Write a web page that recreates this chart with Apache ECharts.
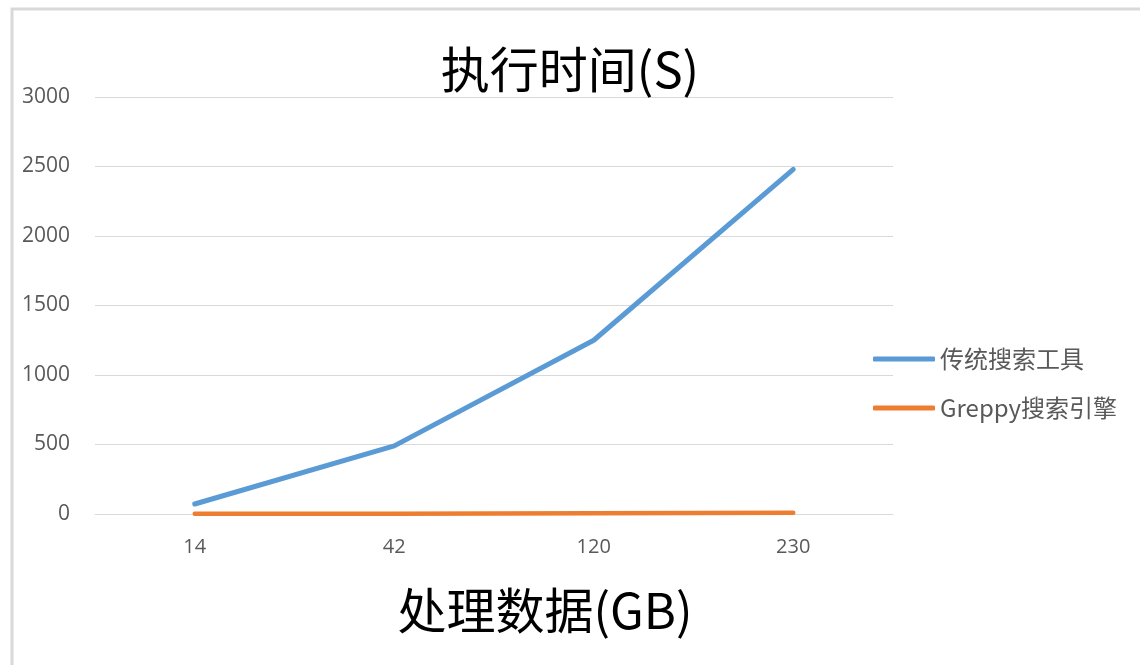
<!DOCTYPE html>
<html>
<head>
<meta charset="utf-8">
<title>执行时间(S)</title>
<script src="https://cdn.jsdelivr.net/npm/echarts@6/dist/echarts.min.js"></script>
<style>
  html, body { margin: 0; padding: 0; background: #fff; }
  #main { width: 1140px; height: 665px; }
</style>
</head>
<body>
<div id="main"></div>
<script>
// 数据
const categories = ['14', '42', '120', '230']
const traditional = [72, 490, 1250, 2480]
const greppy = [1, 2, 6, 9]
const seriesNames = ['传统搜索工具', 'Greppy搜索引擎']

const labelColor = '#595959'
const cjkFont = '"Noto Sans CJK SC", "Noto Sans", sans-serif'

const chart = echarts.init(document.getElementById('main'), null, { renderer: 'canvas' })

chart.setOption({
  animation: false,
  textStyle: { fontFamily: cjkFont },
  title: {
    text: '执行时间(S)',
    left: 'center',
    top: 45,
    padding: 0,
    textStyle: { fontSize: 49, fontWeight: 'normal', color: '#000', fontFamily: cjkFont }
  },
  graphic: [
    {
      type: 'rect',
      shape: { x: 12, y: 9, width: 1200, height: 700 },
      style: { fill: 'none', stroke: '#d9d9d9', lineWidth: 3 },
      silent: true
    }
  ],
  legend: {
    orient: 'vertical',
    left: 868,
    top: 342,
    itemWidth: 62,
    itemHeight: 5,
    itemGap: 25,
    icon: 'roundRect',
    textStyle: { fontSize: 24, lineHeight: 24, color: labelColor, fontFamily: cjkFont },
    data: seriesNames
  },
  grid: {
    left: 95,
    right: 247,
    top: 97,
    bottom: 151
  },
  xAxis: {
    type: 'category',
    data: categories,
    boundaryGap: true,
    name: '处理数据(GB)',
    nameLocation: 'middle',
    nameGap: 72,
    nameTextStyle: { fontSize: 49, color: '#000', fontFamily: cjkFont, padding: [0, 0, 0, 102] },
    axisLine: { show: true, lineStyle: { color: '#d9d9d9', width: 1 } },
    axisTick: { show: false },
    axisLabel: { fontSize: 20, color: labelColor, margin: 23, fontFamily: '"Open Sans", sans-serif' }
  },
  yAxis: {
    type: 'value',
    min: 0,
    max: 3000,
    interval: 500,
    axisLine: { show: false },
    axisTick: { show: false },
    axisLabel: {
      fontSize: 21,
      color: labelColor,
      margin: 25,
      fontFamily: '"Open Sans", sans-serif',
      formatter: v => String(v)
    },
    splitLine: { lineStyle: { color: '#d9d9d9', width: 1 } }
  },
  series: [
    {
      name: seriesNames[0],
      type: 'line',
      data: traditional,
      symbol: 'none',
      lineStyle: { width: 5, color: '#5b9bd5', cap: 'round' },
      itemStyle: { color: '#5b9bd5' }
    },
    {
      name: seriesNames[1],
      type: 'line',
      data: greppy,
      symbol: 'none',
      lineStyle: { width: 4.5, color: '#ed7d31', cap: 'round' },
      itemStyle: { color: '#ed7d31' }
    }
  ]
})
</script>
</body>
</html>
